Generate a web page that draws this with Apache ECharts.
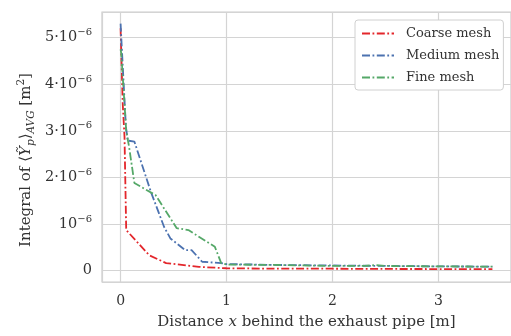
<!DOCTYPE html>
<html><head><meta charset="utf-8">
<script src="https://cdn.jsdelivr.net/npm/echarts@6/dist/echarts.min.js"></script>
<style>html,body{margin:0;padding:0;background:#fff}#c{width:511px;height:336px}</style>
</head><body><div id="c"></div>
<script>
// values in units of 1e-6 m^2
const seriesNames = ["Coarse mesh", "Medium mesh", "Fine mesh"];
const xCoarse = [0, 0.02, 0.037, 0.053, 0.27, 0.43, 0.74, 1.0, 1.5, 2.0, 2.5, 3.0, 3.51];
const yCoarse = [5.2, 3.59, 2.87, 0.87, 0.33, 0.16, 0.08, 0.05, 0.04, 0.04, 0.035, 0.033, 0.03];
const xMedium = [0, 0.006, 0.05, 0.068, 0.13, 0.286, 0.41, 0.47, 0.61, 0.67, 0.77, 0.95, 1.0, 1.5, 2.0, 2.5, 3.0, 3.51];
const yMedium = [5.3, 5.02, 3.09, 2.79, 2.77, 1.69, 0.94, 0.69, 0.44, 0.44, 0.19, 0.16, 0.14, 0.12, 0.11, 0.1, 0.09, 0.085];
const xFine = [0, 0.006, 0.053, 0.08, 0.13, 0.33, 0.53, 0.64, 0.89, 0.95, 1.0, 1.5, 2.0, 2.3, 2.41, 2.5, 3.0, 3.51];
const yFine = [4.75, 4.67, 3.0, 2.66, 1.88, 1.62, 0.91, 0.87, 0.51, 0.16, 0.13, 0.12, 0.1, 0.1, 0.12, 0.1, 0.09, 0.085];
const xTicks = [0, 1, 2, 3];
const yTickLabels = {0: "0", 1: "10", 2: "2·10", 3: "3·10", 4: "4·10", 5: "5·10"};
const colors = ["#e3262b", "#4c72b0", "#55a868"];

const zip = (xs, ys) => xs.map((x, i) => [x, ys[i]]);
const dash = [8, 2.5, 1.8, 2.5];
const serif = "DejaVu Serif";

const chart = echarts.init(document.getElementById('c'), null, {renderer: 'canvas'});
chart.setOption({
  animation: false,
  backgroundColor: '#fff',
  grid: {left: 102, top: 12, right: -5, bottom: 54, show: true, borderColor: '#cccccc', borderWidth: 1.2, backgroundColor: '#fff'},
  xAxis: {
    type: 'value', min: -0.1755, max: 3.6855,
    axisLine: {show: false}, axisTick: {show: false},
    splitLine: {show: true, lineStyle: {color: '#d4d4d4', width: 1.2}},
    axisLabel: {
      showMinLabel: false, showMaxLabel: false, margin: 12,
      fontFamily: serif, fontSize: 14, color: '#333',
      formatter: v => xTicks.includes(Math.round(v)) && Math.abs(v - Math.round(v)) < 1e-6 ? String(Math.round(v)) : ''
    },
    name: '{n|Distance }{i|x}{n| behind the exhaust pipe [m]}',
    nameLocation: 'middle', nameGap: 33,
    nameTextStyle: {rich: {n: {fontFamily: serif, fontSize: 15, color: '#333'}, i: {fontFamily: serif, fontStyle: 'italic', fontSize: 15, color: '#333'}}}
  },
  yAxis: {
    type: 'value', min: -0.245, max: 5.55,
    axisLine: {show: false}, axisTick: {show: false},
    splitLine: {show: true, lineStyle: {color: '#d4d4d4', width: 1.2}},
    axisLabel: {
      showMinLabel: false, showMaxLabel: false, margin: 10,
      formatter: v => {
        const r = Math.round(v);
        if (Math.abs(v - r) > 1e-6 || !(r in yTickLabels)) return '';
        if (r === 0) return '{n|0}';
        return '{n|' + yTickLabels[r] + '}{s|−6}';
      },
      rich: {
        n: {fontFamily: serif, fontSize: 14.5, color: '#333'},
        s: {fontFamily: serif, fontSize: 10, color: '#333', verticalAlign: 'bottom', padding: [0, 0, 10, 0]}
      }
    }
  },
  legend: {
    orient: 'vertical', left: 355, top: 20,
    itemWidth: 32, itemHeight: 14, itemGap: 9,
    padding: [7, 4, 6, 6],
    itemStyle: {opacity: 0},
    backgroundColor: '#fff', borderColor: '#d0d0d0', borderWidth: 1, borderRadius: 3,
    textStyle: {fontFamily: serif, fontSize: 13, color: '#333', padding: [0, 0, 0, 7]},
    data: seriesNames
  },
  graphic: [{
    type: 'text', x: 26, y: 160, rotation: Math.PI / 2,
    style: {
      text: '{n|Integral of ⟨}{i|Y\u0303}{sub|p}{n|⟩}{sub|AVG}{n| [m}{sup|2}{n|]}',
      align: 'center', verticalAlign: 'middle',
      rich: {
        n: {fontFamily: serif, fontSize: 15, fill: '#333'},
        i: {fontFamily: serif, fontSize: 15, fontStyle: 'italic', fill: '#333'},
        sub: {fontFamily: serif, fontSize: 10.5, fontStyle: 'italic', fill: '#333', verticalAlign: 'top', padding: [11, 0, 0, 0]},
        sup: {fontFamily: serif, fontSize: 10.5, fill: '#333', verticalAlign: 'bottom', padding: [0, 0, 10, 0]}
      }
    }
  }],
  series: [
    {name: seriesNames[0], type: 'line', data: zip(xCoarse, yCoarse), symbol: 'none', color: colors[0], lineStyle: {color: colors[0], width: 1.8, type: dash}, z: 3},
    {name: seriesNames[1], type: 'line', data: zip(xMedium, yMedium), symbol: 'none', color: colors[1], lineStyle: {color: colors[1], width: 1.8, type: dash}, z: 4},
    {name: seriesNames[2], type: 'line', data: zip(xFine, yFine), symbol: 'none', color: colors[2], lineStyle: {color: colors[2], width: 1.8, type: dash}, z: 5}
  ]
});
</script></body></html>
